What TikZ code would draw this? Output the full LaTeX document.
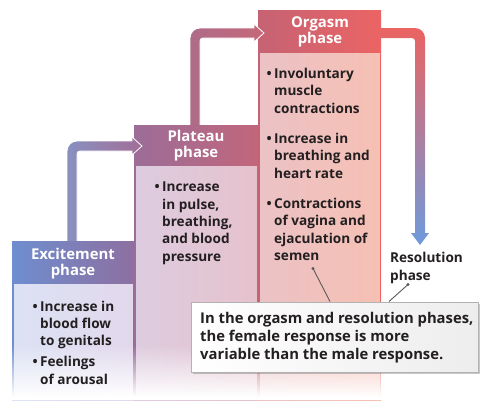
\documentclass[tikz,border=0pt]{standalone}
\usepackage{fontspec}
\setmainfont{Open Sans}[BoldFont={Open Sans Bold}]
\usetikzlibrary{fadings,shadows}
\definecolor{txt}{HTML}{231F20}
\definecolor{exL}{HTML}{6E8ECF}\definecolor{exR}{HTML}{8E6FA0}
\definecolor{plL}{HTML}{9C6D98}\definecolor{plR}{HTML}{C2667B}
\definecolor{orL}{HTML}{C56373}\definecolor{orR}{HTML}{EC6464}
\definecolor{exBL}{HTML}{DCE2F4}\definecolor{exBR}{HTML}{E2D8EC}
\definecolor{plBL}{HTML}{DDCCE0}\definecolor{plBR}{HTML}{E6C2CC}
\definecolor{orBL}{HTML}{EBC2C6}\definecolor{orBR}{HTML}{F6C0B3}
\definecolor{aoneL}{HTML}{8890C0}\definecolor{aoneR}{HTML}{A26E96}
\definecolor{atwoL}{HTML}{AE6C88}\definecolor{atwoR}{HTML}{C6687A}
\definecolor{athT}{HTML}{EA6462}\definecolor{athM}{HTML}{BC6C80}\definecolor{athB}{HTML}{6E9ADC}
\definecolor{leader}{HTML}{5A5A5A}
\newcommand{\mylinesl}[1]{\begin{tabular}[t]{@{}l@{}}#1\end{tabular}}
\newcommand{\mylinesc}[1]{\begin{tabular}[t]{@{}c@{}}#1\end{tabular}}
\newcommand{\bul}{\llap{\textbullet\hspace{2.5pt}}}
\begin{document}
\begin{tikzpicture}[x=1pt,y=-1pt,
  hdrbox/.style={rectangle, inner sep=0pt, draw=none, anchor=north west},
  hdrtxt/.style={anchor=base, inner sep=0pt, text=white, font=\bfseries\fontsize{14.9}{16.2}\selectfont},
  bodytxt/.style={anchor=base west, inner sep=0pt, text=txt, font=\bfseries\fontsize{13.6}{17.4}\selectfont},
  notetxt/.style={anchor=base west, inner sep=0pt, text=txt, font=\bfseries\fontsize{14.8}{18.3}\selectfont},
  notebox/.style={rectangle, anchor=north west, inner sep=0pt, left color=white, right color=black!7, draw=black!30, line width=0.8pt,
     drop shadow={shadow xshift=1.5pt, shadow yshift=-1.5pt, opacity=0.3, fill=black!70}},
  leadline/.style={draw=leader, line width=0.9pt},
  bordline/.style={line width=1.5pt}]
\useasboundingbox (0,0) rectangle (484,400);

% column bodies
\shade[left color=exBL, right color=exBR] (12,283) rectangle (134,400);
\shade[left color=plBL, right color=plBR] (134,165) rectangle (258,400);
\shade[left color=orBL, right color=orBR] (258,52) rectangle (381,400);
\draw[bordline, exL] (12.75,283) -- (12.75,400);
\draw[bordline, exR] (133.25,283) -- (133.25,400);
\draw[bordline, plL] (134.75,165) -- (134.75,400);
\draw[bordline, plR] (257.25,165) -- (257.25,400);
\draw[bordline, orL] (258.75,52) -- (258.75,400);
\draw[bordline, orR] (380.25,52) -- (380.25,400);

% fade to white at the bottom
\fill[white, path fading=north] (0,345) rectangle (484,397);
\fill[white] (0,396.5) rectangle (484,400);

% headers and arrows
\node[hdrbox, minimum width=123pt, minimum height=42pt, left color=orL, right color=orR] (orh) at (258,10) {};
\shade[top color=athT, middle color=athM, bottom color=athB]
  (380,28) -- (415,28) .. controls (420.5,28) and (425,32.5) .. (425,38)
  -- (425,233) -- (429,233) -- (420,245) -- (411,233) -- (415,233)
  -- (415,41) .. controls (415,39.3) and (413.7,38) .. (412,38) -- (380,38) -- cycle;
\shade[left color=atwoL, right color=atwoR, draw=white, line width=0.8pt]
  (190,125.5) -- (190,38) .. controls (190,32.5) and (194.5,28) .. (200,28)
  -- (254,28) -- (254,24) -- (264,33) -- (254,42) -- (254,38)
  -- (203,38) .. controls (201.3,38) and (200,39.3) .. (200,41) -- (200,125.5) -- cycle;
\node[hdrbox, minimum width=124pt, minimum height=40pt, left color=plL, right color=plR] (plh) at (134,125) {};
\shade[left color=aoneL, right color=aoneR, draw=white, line width=0.8pt]
  (67,241.5) -- (67,151) .. controls (67,145.5) and (71.5,141) .. (77,141)
  -- (132,141) -- (132,137) -- (142,146) -- (132,155) -- (132,151)
  -- (80,151) .. controls (78.3,151) and (77,152.3) .. (77,154) -- (77,241.5) -- cycle;
\node[hdrbox, minimum width=122pt, minimum height=42pt, left color=exL, right color=exR] (exh) at (12,241) {};

\node[hdrtxt] (ext) at (73,259.5) {\mylinesc{Excitement\\phase}};
\node[hdrtxt] (plt) at (196,141) {\mylinesc{Plateau\\phase}};
\node[hdrtxt] (ort) at (320,27.5) {\mylinesc{Orgasm\\phase}};

% body texts
\node[bodytxt] (ex1) at (40,311) {\mylinesl{\bul Increase in\\blood flow\\to genitals}};
\node[bodytxt] (ex2) at (40,366.7) {\mylinesl{\bul Feelings\\of arousal}};
\node[bodytxt] (pl1) at (162,191.7) {\mylinesl{\bul Increase\\in pulse,\\breathing,\\and blood\\pressure}};
\node[bodytxt] (or1) at (274,78.5) {\mylinesl{\bul Involuntary\\muscle\\contractions}};
\node[bodytxt] (or2) at (274,143.3) {\mylinesl{\bul Increase in\\breathing and\\heart rate}};
\node[bodytxt] (or3) at (274,208.3) {\mylinesl{\bul Contractions\\of vagina and\\ejaculation of\\semen}};
\node[bodytxt] (res) at (390,262.7) {\mylinesl{Resolution\\phase}};

% callout
\node[notebox, minimum width=287pt, minimum height=70pt] (note) at (191,302) {};
\node[notetxt] (notet) at (200,323) {\mylinesl{In the orgasm and resolution phases,\\the female response is more\\variable than the male response.}};

% leader lines
\coordinate (d1) at (313,268.5);
\coordinate (e1) at (330,301.5);
\coordinate (d2) at (408,284.5);
\coordinate (e2) at (389,301.5);
\draw[leadline] (d1) -- (e1);
\draw[leadline] (d2) -- (e2);
\fill[leader] (d1) circle (1.7pt);
\fill[leader] (d2) circle (1.7pt);
\end{tikzpicture}
\end{document}
